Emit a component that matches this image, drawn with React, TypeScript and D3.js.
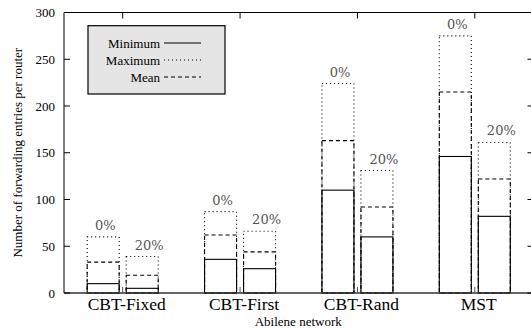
import React from "react";
import * as d3 from "d3";

// Forwarding table sizes on the Abilene network, per construction method
const categories = ["CBT-Fixed", "CBT-First", "CBT-Rand", "MST"];
const variants = ["0%", "20%"];
// values[category][variant]
const minValues = [
  [10, 5],
  [36, 26],
  [110, 60],
  [146, 82],
];
const meanValues = [
  [33, 19],
  [62, 44],
  [163, 92],
  [215, 122],
];
const maxValues = [
  [60, 39],
  [87, 66],
  [224, 131],
  [275, 161],
];
const yTicks = [0, 50, 100, 150, 200, 250, 300];
const legendItems = [
  { label: "Minimum", dash: "none" },
  { label: "Maximum", dash: "1,3" },
  { label: "Mean", dash: "4,3" },
];

const W = 531;
const H = 329;
const left = 64;
const right = 533.5;
const top = 12.5;
const bottom = 293;
const serif = "Liberation Serif, Times New Roman, serif";
const labelFont = "DejaVu Serif, serif";

export default function App() {
  const x = d3.scaleLinear().domain([-0.5, categories.length - 0.5]).range([left, right]);
  const y = d3.scaleLinear().domain([0, 300]).range([bottom, top]);
  const barW = 32;
  const gap = 7;
  const barX = (ci: number, vi: number) =>
    vi === 0 ? x(ci) - gap / 2 - barW : x(ci) + gap / 2;

  const series = [
    { vals: maxValues, dash: "1,3" },
    { vals: meanValues, dash: "4,3" },
    { vals: minValues, dash: "none" },
  ];
  const txt = { fontFamily: serif };

  return (
    <svg
      width={W}
      height={H}
      style={{ position: "absolute", left: 0, top: 0, background: "#fff" }}
    >
      {/* bars: max (dotted), mean (dashed), min (solid), each from zero */}
      {series.map((s, si) =>
        categories.map((_, ci) =>
          variants.map((_, vi) => (
            <rect
              key={`${si}-${ci}-${vi}`}
              x={barX(ci, vi)}
              y={y(s.vals[ci][vi])}
              width={barW}
              height={y(0) - y(s.vals[ci][vi])}
              fill="none"
              stroke="#000"
              strokeWidth={1.1}
              strokeDasharray={s.dash}
            />
          ))
        )
      )}

      {/* variant labels above each bar group */}
      {categories.map((_, ci) =>
        variants.map((v, vi) => (
          <text
            key={`lab-${ci}-${vi}`}
            x={barX(ci, vi) + barW / 2 + (vi === 0 ? 2 : 7)}
            y={y(maxValues[ci][vi]) - 7}
            textAnchor="middle"
            fontSize={13}
            style={{ fontFamily: labelFont }}
            fill="#555"
          >
            {v}
          </text>
        ))
      )}

      {/* frame */}
      <line x1={left} x2={left} y1={top} y2={bottom} stroke="#000" strokeWidth={1} />
      <line x1={left} x2={right} y1={top} y2={top} stroke="#000" strokeWidth={1} />
      <line x1={right} x2={right} y1={top} y2={bottom} stroke="#000" strokeWidth={1} />
      <line x1={left} x2={right} y1={bottom} y2={bottom} stroke="#333" strokeWidth={1.3} />

      {/* y ticks and labels */}
      {yTicks.map((t) => (
        <g key={`yt-${t}`}>
          <line x1={left} x2={left + 6} y1={y(t)} y2={y(t)} stroke="#000" />
          <line x1={right - 6} x2={right} y1={y(t)} y2={y(t)} stroke="#000" />
          <text x={55} y={y(t)} dy="0.35em" textAnchor="end" fontSize={13} fill="#000" style={txt}>
            {t}
          </text>
        </g>
      ))}

      {/* x ticks and category labels */}
      {categories.map((c, ci) => (
        <g key={`xt-${c}`}>
          <line x1={x(ci)} x2={x(ci)} y1={top} y2={top + 6} stroke="#000" />
          <line x1={x(ci)} x2={x(ci)} y1={bottom - 6} y2={bottom} stroke="#555" />
          <text x={x(ci) + 4} y={310} textAnchor="middle" fontSize={17.5} fill="#000" style={txt}>
            {c}
          </text>
        </g>
      ))}

      <text x={(left + right) / 2 - 0.5} y={326} textAnchor="middle" fontSize={13} fill="#000" style={txt}>
        Abilene network
      </text>
      <text
        transform={`translate(22,${(top + bottom) / 2}) rotate(-90)`}
        textAnchor="middle"
        fontSize={13}
        fill="#000"
        style={txt}
      >
        Number of forwarding entries per router
      </text>

      {/* legend */}
      <rect x={88} y={25.7} width={137} height={68.3} fill="#e5e5e5" stroke="#000" strokeWidth={1.2} />
      {legendItems.map((item, i) => (
        <g key={item.label}>
          <text x={160} y={43 + i * 17} dy="0.35em" textAnchor="end" fontSize={13} fill="#000" style={txt}>
            {item.label}
          </text>
          <line
            x1={164}
            x2={201}
            y1={43 + i * 17}
            y2={43 + i * 17}
            stroke="#000"
            strokeWidth={1.1}
            strokeDasharray={item.dash}
          />
        </g>
      ))}
    </svg>
  );
}
